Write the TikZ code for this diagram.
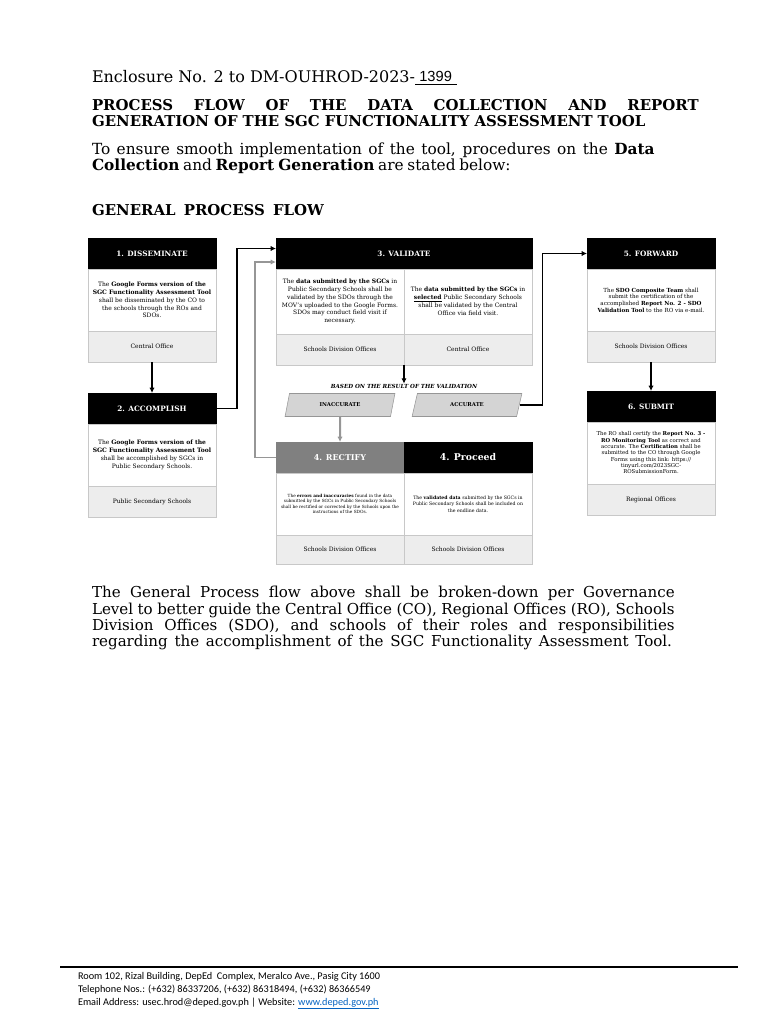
\documentclass[tikz,border=0pt]{standalone}
\usepackage{fontspec}
\setmainfont{DejaVu Serif}
\newfontfamily\footfont{Carlito}
\newfontfamily\numfont{Liberation Sans}
\usepackage{xcolor}
\definecolor{linegray}{RGB}{150,150,150}
\definecolor{boxline}{RGB}{200,200,200}
\definecolor{footgray}{RGB}{237,237,237}
\definecolor{hdrgray}{RGB}{128,128,128}
\definecolor{parafill}{RGB}{212,212,212}
\definecolor{linkblue}{RGB}{5,99,193}
\usetikzlibrary{shapes.geometric,arrows.meta,positioning,calc}

\begin{document}
\begin{tikzpicture}[x=0.75pt,y=-0.75pt,
  hdr/.style={draw=black,fill=black,text=white,font=\fontsize{5.5}{6.5}\selectfont\bfseries,
    minimum width=96pt,minimum height=23.25pt,inner sep=1pt,outer sep=0pt,anchor=north west},
  body/.style={draw=boxline,fill=white,minimum width=96pt,minimum height=46.5pt,inner sep=1pt,
    outer sep=0pt,align=center,font=\fontsize{4.5}{5.9}\selectfont},
  foot/.style={draw=boxline,fill=footgray,minimum width=96pt,minimum height=23.25pt,inner sep=1pt,
    outer sep=0pt,font=\fontsize{4.5}{5.5}\selectfont},
  para/.style={trapezium,trapezium left angle=66,trapezium right angle=114,trapezium stretches=true,
    draw=linegray,fill=parafill,minimum width=82.5pt,minimum height=17.25pt,inner sep=0pt,
    font=\fontsize{4}{5}\selectfont\bfseries},
  arr/.style={-{Latex[length=4pt,width=4pt]},line width=1.2pt},
  garr/.style={-{Latex[length=4pt,width=4pt]},line width=1pt,linegray},
  ln/.style={anchor=base west,inner sep=0pt,outer sep=0pt,font=\fontsize{11.5}{13}\selectfont},
  ttl/.style={ln,font=\fontsize{11.2}{13}\selectfont\bfseries},
  fl/.style={anchor=base west,inner sep=0pt,outer sep=0pt,font=\footfont\fontsize{7.7}{9}\selectfont}]
  \useasboundingbox (0,0) rectangle (768,1024);

  \node[ln,font=\fontsize{12}{13}\selectfont] (enc) at (92,83) {Enclosure No. 2 to DM-OUHROD-2023-};
  \node[anchor=base west,inner sep=0pt,font=\numfont\fontsize{11}{12}\selectfont] (num) at ([xshift=3pt,yshift=1.5pt]enc.base east) {1399};
  \draw[line width=0.6pt] ([yshift=-1.2pt]enc.base east) -- ++(42,0);
  \node[ttl] (t1) at (92,110) {\makebox[455pt][s]{PROCESS FLOW OF THE DATA COLLECTION AND REPORT}};
  \node[ttl] (t2) at (92,126) {\makebox[415pt][s]{GENERATION OF THE SGC FUNCTIONALITY ASSESSMENT TOOL}};
  \node[ln] (i1) at (92,154) {\makebox[422pt][s]{To ensure smooth implementation of the tool, procedures on the \textbf{Data}}};
  \node[ln] (i2) at (92,170) {\makebox[314pt][s]{\textbf{Collection} and \textbf{Report Generation} are stated below:}};
  \node[ttl] (gpf) at (92,215) {\makebox[174pt][s]{GENERAL PROCESS FLOW}};

  \node[hdr] (h1) at (88,238) {1. DISSEMINATE};
  \node[body,below=0pt of h1] (b1) {The \textbf{Google Forms version of the}\\ \textbf{SGC Functionality Assessment Tool}\\ shall be disseminated by the CO to\\ the schools through the ROs and\\ SDOs.};
  \node[foot,below=0pt of b1] (f1) {Central Office};

  \node[hdr] (h2) at (88,393) {2. ACCOMPLISH};
  \node[body,below=0pt of h2] (b2) {The \textbf{Google Forms version of the}\\ \textbf{SGC Functionality Assessment Tool}\\ shall be accomplished by SGCs in\\ Public Secondary Schools.};
  \node[foot,below=0pt of b2] (f2) {Public Secondary Schools};

  \node[hdr,minimum width=192pt] (h3) at (276,238) {3. VALIDATE};
  \node[body,minimum height=48.75pt,anchor=north west] (b3a) at (h3.south west) {The \textbf{data submitted by the SGCs} in\\ Public Secondary Schools shall be\\ validated by the SDOs through the\\ MOV's uploaded to the Google Forms.\\ SDOs may conduct field visit if\\ necessary.};
  \node[body,minimum height=48.75pt,right=0pt of b3a] (b3b) {The \textbf{data submitted by the SGCs} in\\ \underline{\textbf{selected}} Public Secondary Schools\\ shall be validated by the Central\\ Office via field visit.};
  \node[foot,below=0pt of b3a] (f3a) {Schools Division Offices};
  \node[foot,below=0pt of b3b] (f3b) {Central Office};

  \node[inner sep=0pt,font=\fontsize{4.2}{5}\selectfont\bfseries\itshape] (based) at (404,386) {BASED ON THE RESULT OF THE VALIDATION};
  \node[para] (inacc) at (340,405) {INACCURATE};
  \node[para] (acc) at (467,405) {ACCURATE};

  \node[hdr,fill=hdrgray,draw=hdrgray,font=\fontsize{6}{7}\selectfont\bfseries] (h4a) at (276,442) {4. RECTIFY};
  \node[hdr,font=\fontsize{7}{8}\selectfont\bfseries,right=0pt of h4a] (h4b) {4. Proceed};
  \node[body,below=0pt of h4a,font=\fontsize{3.2}{3.9}\selectfont] (b4a) {The \textbf{errors and inaccuracies} found in the data\\ submitted by the SGCs in Public Secondary Schools\\ shall be rectified or corrected by the Schools upon the\\ instructions of the SDOs.};
  \node[body,below=0pt of h4b,font=\fontsize{3.5}{4.9}\selectfont] (b4b) {The \textbf{validated data} submitted by the SGCs in\\ Public Secondary Schools shall be included on\\ the endline data.};
  \node[foot,below=0pt of b4a,minimum height=22pt] (f4a) {Schools Division Offices};
  \node[foot,below=0pt of b4b,minimum height=22pt] (f4b) {Schools Division Offices};

  \node[hdr] (h5) at (587,238) {5. FORWARD};
  \node[body,below=0pt of h5,font=\fontsize{4.2}{5}\selectfont] (b5) {The \textbf{SDO Composite Team} shall\\ submit the certification of the\\ accomplished \textbf{Report No. 2 - SDO}\\ \textbf{Validation Tool} to the RO via e-mail.};
  \node[foot,below=0pt of b5] (f5) {Schools Division Offices};

  \node[hdr] (h6) at (587,391) {6. SUBMIT};
  \node[body,below=0pt of h6,font=\fontsize{4}{4.75}\selectfont] (b6) {The RO shall certify the \textbf{Report No. 3 -}\\ \textbf{RO Monitoring Tool} as correct and\\ accurate. The \textbf{Certification} shall be\\ submitted to the CO through Google\\ Forms using this link: https://\\ tinyurl.com/2023SGC-\\ ROSubmissionForm.};
  \node[foot,below=0pt of b6] (f6) {Regional Offices};

  \draw[arr] (f1.south) -- (h2.north);
  \draw[arr] (h2.east) -- ++(21,0) |- ($(h3.west)+(0,-5)$);
  \draw[garr] (h4a.west) -- ++(-21,0) |- ($(h3.west)+(0,8.5)$);
  \draw[arr] (f3a.south east) -- (based.north);
  \draw[garr,line width=1.5pt] (inacc.south) -- (h4a.north);
  \draw[arr] (acc.east) -- ++(23,0) |- (h5.west);
  \draw[arr] (f5.south) -- (h6.north);

  \node[ln,font=\fontsize{11.3}{13}\selectfont] (p1) at (92,597) {\makebox[437pt][s]{The General Process flow above shall be broken-down per Governance}};
  \node[ln,font=\fontsize{11.3}{13}\selectfont] (p2) at (92,614) {\makebox[437pt][s]{Level to better guide the Central Office (CO), Regional Offices (RO), Schools}};
  \node[ln,font=\fontsize{11.3}{13}\selectfont] (p3) at (92,630) {\makebox[437pt][s]{Division Offices (SDO), and schools of their roles and responsibilities}};
  \node[ln,font=\fontsize{11.3}{13}\selectfont] (p4) at (92,646) {\makebox[435pt][s]{regarding the accomplishment of the SGC Functionality Assessment Tool.}};

  \draw[line width=1.5pt] (60,967) -- (738,967);
  \node[fl] (a1) at (78,979) {Room 102, Rizal Building, DepEd\ \ Complex, Meralco Ave., Pasig City 1600};
  \node[fl] (a2) at (78,992) {Telephone Nos.: (+632) 86337206, (+632) 86318494, (+632) 86366549};
  \node[fl] (a3) at (78,1005) {Email Address: usec.hrod@deped.gov.ph | Website: \textcolor{linkblue}{\underline{www.deped.gov.ph}}};
\end{tikzpicture}
\end{document}
